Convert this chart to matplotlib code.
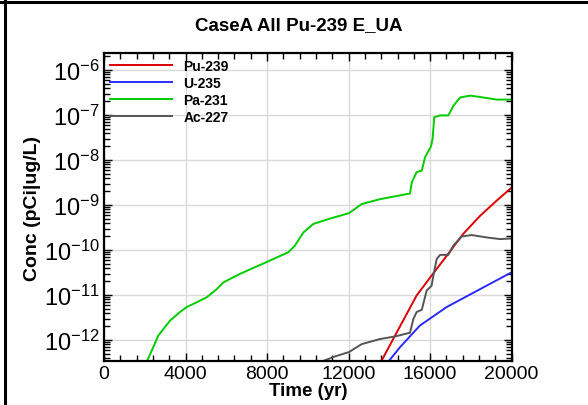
import numpy as np
import matplotlib
matplotlib.use("Agg")
import matplotlib.pyplot as plt
from matplotlib.lines import Line2D
from matplotlib.ticker import MultipleLocator, LogLocator, NullFormatter

plt.rcParams["font.family"] = ["Liberation Sans", "DejaVu Sans"]
plt.rcParams["mathtext.fontset"] = "custom"
plt.rcParams["mathtext.rm"] = "Liberation Sans"
plt.rcParams["mathtext.it"] = "Liberation Sans:italic"
plt.rcParams["mathtext.bf"] = "Liberation Sans:bold"

# values (time in yr, concentration)
pu_t = [13590, 14280, 15340, 16070, 16810, 17630, 18450, 19270, 20000]
pu_c = [3.3e-13, 1.26e-12, 9.8e-12, 2.7e-11, 7.4e-11, 2.3e-10, 5.75e-10, 1.26e-9, 2.45e-9]

u_t = [13950, 14520, 15500, 16810, 18450, 20000]
u_c = [3.3e-13, 6.9e-13, 2.1e-12, 5.4e-12, 1.35e-11, 3.2e-11]

pa_t = [2095, 2340, 2665, 3240, 3730, 4055, 4550, 5040, 5530, 5850, 6670, 7980,
        9040, 9370, 9780, 10270, 11090, 12020, 12640, 13540, 15010, 15100, 15340,
        15590, 15750, 16040, 16120, 16200, 16490, 16890, 17140, 17470, 17960,
        18610, 19270, 20000]
pa_c = [3.3e-13, 5.8e-13, 1.26e-12, 2.7e-12, 4.2e-12, 5.4e-12, 6.9e-12, 8.9e-12,
        1.35e-11, 1.9e-11, 2.95e-11, 5.4e-11, 8.9e-11, 1.26e-10, 2.45e-10, 3.8e-10,
        5.0e-10, 6.6e-10, 1.05e-9, 1.35e-9, 1.8e-9, 3.2e-9, 5.4e-9, 5.8e-9, 1.15e-8,
        2.0e-8, 2.95e-8, 8.9e-8, 9.8e-8, 9.8e-8, 1.6e-7, 2.45e-7, 2.7e-7, 2.45e-7,
        2.2e-7, 2.2e-7]

ac_t = [10680, 11250, 12020, 12640, 13540, 14280, 15010, 15180, 15340, 15590,
        15830, 16070, 16190, 16320, 16490, 16890, 17140, 17550, 18040, 18780,
        19430, 20000]
ac_c = [3.3e-13, 4.2e-13, 5.4e-13, 8.1e-13, 1.05e-12, 1.2e-12, 1.45e-12, 2.95e-12,
        4.2e-12, 4.7e-12, 1.26e-11, 1.6e-11, 3.2e-11, 6.3e-11, 7.8e-11, 7.8e-11,
        1.26e-10, 2.0e-10, 2.15e-10, 1.9e-10, 1.75e-10, 1.8e-10]

fig = plt.figure(figsize=(5.88, 4.06), dpi=100)
ax = fig.add_axes([0.1769, 0.1076, 0.6933, 0.7594])

ax.plot(pu_t, pu_c, color="#dd0000", lw=1.4, label="Pu-239")
ax.plot(u_t, u_c, color="#2a2aff", lw=1.4, label="U-235")
ax.plot(pa_t, pa_c, color="#00cc00", lw=1.4, label="Pa-231")
ax.plot(ac_t, ac_c, color="#555555", lw=1.4, label="Ac-227")

ax.set_yscale("log")
ax.set_xlim(0, 20000)
ax.set_ylim(3.36e-13, 2.39e-6)
ax.xaxis.set_major_locator(MultipleLocator(4000))
ax.xaxis.set_minor_locator(MultipleLocator(800))
ax.yaxis.set_major_locator(LogLocator(base=10, numticks=20))
ax.yaxis.set_minor_locator(LogLocator(base=10, subs=np.arange(2, 10), numticks=20))
ax.yaxis.set_minor_formatter(NullFormatter())

ax.grid(True, which="major", color="#d9d9d9", lw=1.0)
ax.set_axisbelow(True)
ax.tick_params(which="both", direction="in", top=True, right=True, width=1.0)
ax.tick_params(which="major", length=6)
ax.tick_params(which="minor", length=4)
ax.tick_params(axis="x", labelsize=14, pad=3)
ax.tick_params(axis="y", labelsize=17, pad=3)
for s in ax.spines.values():
    s.set_linewidth(1.6)

ax.set_xlabel("Time (yr)", fontsize=13.5, fontweight="bold", labelpad=0)
ax.set_ylabel("Conc (pCi|ug/L)", fontsize=14, fontweight="bold", labelpad=2)
fig.suptitle("CaseA All Pu-239 E_UA", x=0.508, y=0.958, fontsize=13.5, fontweight="bold")

leg = ax.legend(loc="upper left", frameon=False, prop={"size": 10, "weight": "bold"},
                handlelength=4.5, handletextpad=0.8, labelspacing=0.22,
                borderaxespad=0.0, bbox_to_anchor=(0.0, 1.0))

# partial frame around the figure (top and left edges)
fig.add_artist(Line2D([0.0, 1.0], [0.9935, 0.9935], transform=fig.transFigure, color="black", lw=2.2))
fig.add_artist(Line2D([0.0085, 0.0085], [0.0, 1.0], transform=fig.transFigure, color="black", lw=2.2))

fig.savefig("out.png", dpi=100)
